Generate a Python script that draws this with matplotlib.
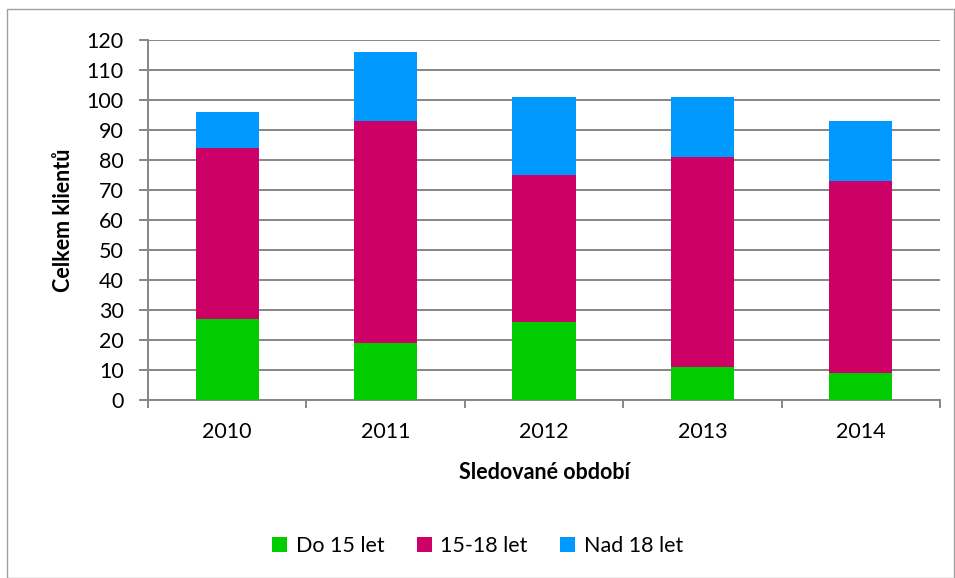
import matplotlib
matplotlib.use("Agg")
import matplotlib.pyplot as plt
from matplotlib.patches import Rectangle
import numpy as np

plt.rcParams['font.family'] = ['Lato', 'DejaVu Sans']

years = ["2010", "2011", "2012", "2013", "2014"]
do15 = [27, 19, 26, 11, 9]
od15_18 = [57, 74, 49, 70, 64]
nad18 = [12, 23, 26, 20, 20]
series_names = ["Do 15 let", "15-18 let", "Nad 18 let"]
colors = ["#00CC00", "#CC0066", "#0099FF"]

W, H = 955, 578
fig = plt.figure(figsize=(W / 100, H / 100), dpi=100)
fig.patches.append(Rectangle((7 / W, 0), 1 - 7 / W - 0.001, 1 - 9 / H, transform=fig.transFigure,
                             fill=False, edgecolor="#A0A0A0", linewidth=1.0))

ax = fig.add_axes([148 / W, 1 - 400 / H, (940 - 148) / W, (400 - 40) / H])

x = np.arange(len(years))
bottom = np.zeros(len(years))
for vals, name, c in zip([do15, od15_18, nad18], series_names, colors):
    ax.bar(x, vals, width=0.4, bottom=bottom, color=c, label=name, zorder=3)
    bottom += np.array(vals)

ax.set_xlim(-0.5, len(years) - 0.5)
ax.set_ylim(0, 120)
ax.set_yticks(np.arange(0, 121, 10))
ax.yaxis.grid(True, color="#868686", linewidth=1.4, zorder=0)
ax.set_axisbelow(True)

for s in ["top", "right"]:
    ax.spines[s].set_visible(False)
ax.spines["left"].set_color("#868686")
ax.spines["bottom"].set_color("#868686")
ax.spines["left"].set_linewidth(1.4)
ax.spines["bottom"].set_linewidth(1.4)

ax.set_xticks(np.arange(-0.5, len(years), 1.0))
ax.set_xticklabels([])
ax.set_xticks(x, minor=True)
ax.set_xticklabels(years, minor=True)
ax.tick_params(axis="x", which="major", length=6, color="#868686", width=1.4)
ax.tick_params(axis="x", which="minor", length=0, pad=16, labelsize=15.5)
ax.tick_params(axis="y", length=6.5, color="#868686", width=1.4, labelsize=15.5, pad=11)

ax.set_ylabel("Celkem klientů", fontsize=15.5, fontweight="bold", labelpad=9)
ax.set_xlabel("Sledované období", fontsize=15.5, fontweight="bold", labelpad=14)

fig.legend(loc="center", bbox_to_anchor=(0.5, 1 - 546 / H), ncol=3, frameon=False,
           fontsize=15.5, handlelength=0.7, handleheight=0.7, handletextpad=0.4, columnspacing=1.5)

fig.savefig("out.png", dpi=100)
